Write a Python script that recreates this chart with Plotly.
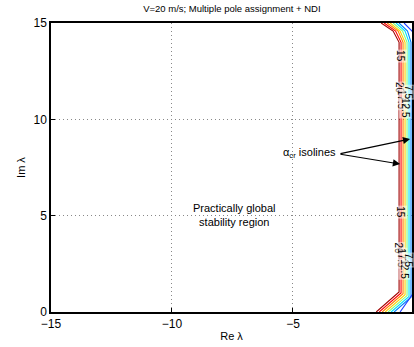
import plotly.graph_objects as go

# isoline data (alpha_cr levels)
levels = [20, 17.5, 15, 12.5, 10, 7.5, 5, 2.5]
colors = ["#a00000", "#ff0000", "#ff8000", "#ffd000", "#80ff80", "#00e0ff", "#0080ff", "#2040ff"]
x_bottom = [-1.56, -1.437, -1.314, -1.19, -1.067, -0.944, -0.821, -0.575]
y_bend = [1.04, 0.99, 0.95, 0.90, 0.85, 0.81, 0.77, 1.32]
x_vert = [-0.616, -0.534, -0.452, -0.369, -0.287, -0.205, -0.123, 0.16]
y_corner = [14.0, 14.0, 14.0, 14.0, 14.0, 14.0, 14.0, 14.0]
x_knee = [-0.862, -0.76, -0.657, -0.575, -0.472, -0.369, -0.267, -0.082]
y_knee = [14.58, 14.58, 14.58, 14.58, 14.58, 14.58, 14.58, 14.58]
x_top = [-1.355, -1.232, -1.108, -0.985, -0.862, -0.739, -0.616, -0.41]

# contour labels (text, x, y)
lab_text = ["15", "20", "17.5", "12.5", "7.5", "15", "20", "17.5", "12.5", "7.5"]
lab_x = [-0.55, -0.6, -0.48, -0.38, -0.24, -0.55, -0.62, -0.5, -0.4, -0.25]
lab_y = [13.3, 11.6, 11.0, 10.6, 11.4, 5.2, 3.3, 2.8, 2.2, 2.7]

fig = go.Figure()
for i, lv in enumerate(levels):
    xs = [x_bottom[i], x_vert[i], x_vert[i], x_knee[i], x_top[i]]
    ys = [0, y_bend[i], y_corner[i], y_knee[i], 15]
    fig.add_trace(go.Scatter(x=xs, y=ys, mode="lines", name=str(lv),
                             line=dict(color=colors[i], width=1.1),
                             showlegend=False, hoverinfo="skip"))

for t, x, y in zip(lab_text, lab_x, lab_y):
    fig.add_annotation(x=x, y=y, text=t, showarrow=False, textangle=90,
                       font=dict(size=10, color="black", family="Liberation Sans, Arial"),
                       bgcolor="rgba(255,255,255,0.5)", borderpad=0)

fig.add_annotation(x=-7.43, y=5.05, text="Practically global<br>stability region",
                   showarrow=False, font=dict(size=11, color="black", family="Liberation Sans, Arial"))

fig.add_annotation(x=-3.12, y=8.25, text="α<sub>cr</sub> isolines", showarrow=False,
                   xanchor="right", font=dict(size=11, color="black", family="Liberation Sans, Arial"))
for hx, hy in [(-0.16, 8.98), (-0.575, 7.68)]:
    fig.add_annotation(x=hx, y=hy, ax=-3.1, ay=8.2, axref="x", ayref="y", xref="x", yref="y",
                       text="", showarrow=True, arrowhead=2, arrowsize=1.2, arrowwidth=1.2,
                       arrowcolor="black")

fig.update_layout(
    width=414, height=347,
    margin=dict(l=51, r=0, t=23, b=35),
    plot_bgcolor="white", paper_bgcolor="white",
    font=dict(family="Liberation Sans, Arial", size=11, color="black"),
    title=dict(text="V=20 m/s; Multiple pole assignment + NDI", x=0.56, xanchor="center",
               y=0.985, yanchor="top", font=dict(size=9.5)),
    xaxis=dict(range=[-15, -0.082], tickvals=[-15, -10, -5, 0], ticktext=["\u221215", "\u221210", "\u22125", "0"],
               showgrid=True, gridcolor="#888", griddash="1px,3px", gridwidth=1,
               showline=True, linecolor="black", linewidth=1.5, mirror=True,
               ticks="inside", ticklen=4, tickcolor="black", zeroline=False,
               tickfont=dict(size=12), title=dict(text="Re λ", standoff=2, font=dict(size=11))),
    yaxis=dict(range=[0, 15], tickvals=[0, 5, 10, 15],
               showgrid=True, gridcolor="#888", griddash="1px,3px", gridwidth=1,
               showline=True, linecolor="black", linewidth=1.5, mirror=True,
               ticks="inside", ticklen=4, tickcolor="black", zeroline=False,
               tickfont=dict(size=12), title=dict(text="Im λ", standoff=6, font=dict(size=11))),
)

fig.write_html("out.html")
